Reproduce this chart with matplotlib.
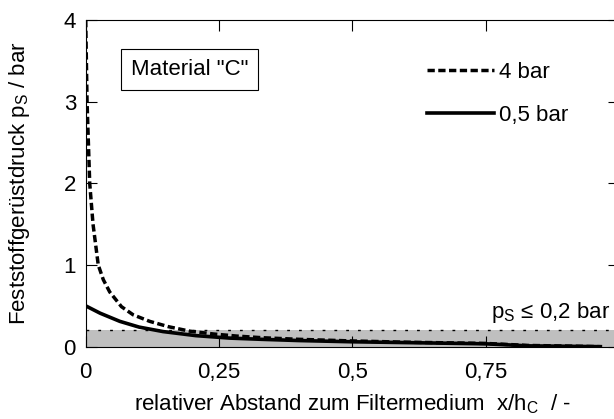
import matplotlib
matplotlib.use("Agg")
import matplotlib.pyplot as plt

# values
x_4bar = [0, 0.0025, 0.0075, 0.0137, 0.0235, 0.033, 0.045, 0.067, 0.089, 0.12,
          0.155, 0.195, 0.24, 0.283, 0.33, 0.4, 0.5, 0.6, 0.75, 0.83, 0.9, 0.965]
y_4bar = [4.0, 3.0, 2.0, 1.5, 1.0, 0.82, 0.67, 0.49, 0.39, 0.31,
          0.245, 0.19, 0.155, 0.13, 0.11, 0.09, 0.07, 0.055, 0.04, 0.015, 0.008, 0.0]
x_05bar = [0, 0.027, 0.064, 0.10, 0.145, 0.207, 0.27, 0.33, 0.4, 0.5, 0.6, 0.75,
           0.83, 0.9, 0.965]
y_05bar = [0.5, 0.41, 0.31, 0.24, 0.185, 0.135, 0.105, 0.09, 0.075, 0.06, 0.05,
           0.035, 0.01, 0.005, 0.0]
limit = 0.2
x_ticks = [0, 0.25, 0.5, 0.75, 1]
x_ticklabels = ["0", "0,25", "0,5", "0,75", "1"]
y_ticks = [0, 1, 2, 3, 4]

plt.rcParams["font.family"] = ["Liberation Sans", "DejaVu Sans"]
plt.rcParams["mathtext.fontset"] = "custom"
plt.rcParams["mathtext.rm"] = "Liberation Sans"
plt.rcParams["font.size"] = 16

fig = plt.figure(figsize=(6.14, 4.19), dpi=100)
ax = fig.add_axes([0.1396, 0.1726, 0.8686, 0.7797])

# shaded region and threshold
ax.axhspan(0, limit, color="#bfbfbf", lw=0, zorder=0)
ax.axhline(limit, color="black", lw=1.0, dashes=(2, 6.5), zorder=1)

ax.plot(x_4bar, y_4bar, color="black", lw=2.5, dashes=(2.1, 1.0), label="4 bar")
ax.plot(x_05bar, y_05bar, color="black", lw=2.6, label="0,5 bar")

ax.set_xlim(0, 1)
ax.set_ylim(0, 4)
ax.set_xticks(x_ticks)
ax.set_xticklabels(x_ticklabels)
ax.set_yticks(y_ticks)
ax.tick_params(direction="in", length=8, width=0.8, top=True, right=True)
ax.tick_params(axis="x", pad=11)
ax.tick_params(axis="y", pad=7)
for s in ax.spines.values():
    s.set_linewidth(0.8)

ax.set_xlabel("relativer Abstand zum Filtermedium  x/h$_\\mathrm{C}$  / -")
ax.set_ylabel("Feststoffgerüstdruck p$_\\mathrm{S}$ / bar")
ax.xaxis.set_label_coords(0.5, -0.14)
ax.yaxis.set_label_coords(-0.1, 0.5)

ax.text(0.195, 3.39, 'Material "C"', ha="center", va="center",
        bbox=dict(boxstyle="square,pad=0.45", fc="white", ec="black", lw=0.8))
ax.text(0.983, 0.35, "p$_\\mathrm{S}$ ≤ 0,2 bar", ha="right", va="baseline")

ax.legend(loc="upper left", bbox_to_anchor=(427 / 614, 1 - 62 / 419),
          bbox_transform=fig.transFigure, frameon=False, borderpad=0,
          borderaxespad=0, handlelength=3.0, handletextpad=0.25,
          labelspacing=1.0)

fig.savefig("out.png", dpi=100)
